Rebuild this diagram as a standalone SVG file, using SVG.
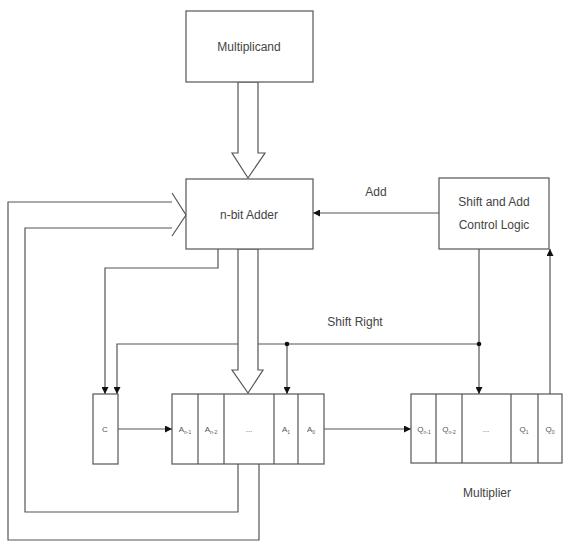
<svg xmlns="http://www.w3.org/2000/svg" width="563" height="542" viewBox="0 0 563 542">
<style>
.box{fill:#fff;stroke:#555;stroke-width:1.2}
.ln{fill:none;stroke:#555;stroke-width:1.2}
.hol{fill:#fff;stroke:#555;stroke-width:1.2;stroke-linejoin:miter}
.t{font-family:"Liberation Sans",Arial,sans-serif;font-size:12px;fill:#444;text-anchor:middle}
.s{font-family:"Liberation Sans",Arial,sans-serif;font-size:8px;fill:#555;text-anchor:middle}
.sub{font-size:5px}
</style>
<defs>
<marker id="ah" viewBox="0 0 10 10" refX="10" refY="5" markerWidth="7" markerHeight="7" markerUnits="userSpaceOnUse" orient="auto">
<path d="M0,0 L10,5 L0,10 z" fill="#111"/>
</marker>
</defs>
<g id="connectors">
<!-- Add -->
<line class="ln" x1="439" y1="213" x2="313" y2="213" marker-end="url(#ah)"/>
<!-- control down to Q -->
<line class="ln" x1="479" y1="249" x2="479" y2="394" marker-end="url(#ah)"/>
<!-- Q0 up to control -->
<line class="ln" x1="550" y1="394" x2="550" y2="249" marker-end="url(#ah)"/>
<!-- Shift Right bus -->
<polyline class="ln" points="479,344 117,344 117,394" marker-end="url(#ah)"/>
<line class="ln" x1="287" y1="344" x2="287" y2="394" marker-end="url(#ah)"/>
<circle cx="287" cy="344" r="2.3" fill="#111"/>
<circle cx="479" cy="344" r="2.3" fill="#111"/>
<!-- adder to C -->
<polyline class="ln" points="218,249 218,268 105,268 105,394" marker-end="url(#ah)"/>
<!-- C to A -->
<line class="ln" x1="118" y1="429" x2="172" y2="429" marker-end="url(#ah)"/>
<!-- A to Q -->
<line class="ln" x1="324" y1="429" x2="411" y2="429" marker-end="url(#ah)"/>
<!-- feedback loops -->
<polyline class="ln" points="259,464 259,540 8,540 8,202 172,202"/>
<polyline class="ln" points="238,464 238,512 25,512 25,228 172,228"/>
<polyline class="hol" points="172,193 186,215 172,236"/>
<!-- multiplicand to adder -->
<polygon class="hol" points="238,82 258,82 258,153 265,153 248,178 232,153 238,153"/>
<!-- adder to A -->
<polygon class="hol" points="238,249 258,249 258,370 263,370 248,393 232,370 238,370"/>
</g>
<g id="multiplicand">
<rect class="box" x="186" y="11" width="127" height="71"/>
<text class="t" x="249" y="51">Multiplicand</text>
</g>
<g id="adder">
<rect class="box" x="186" y="179" width="127" height="70"/>
<text class="t" x="249" y="219">n-bit Adder</text>
</g>
<g id="control">
<rect class="box" x="439" y="178" width="110" height="71"/>
<text class="t" x="494" y="206">Shift and Add</text>
<text class="t" x="494" y="229">Control Logic</text>
</g>
<g id="labels">
<text class="t" x="376" y="196">Add</text>
<text class="t" x="355" y="326">Shift Right</text>
<text class="t" x="487" y="497">Multiplier</text>
</g>
<g id="c-reg">
<rect class="box" x="93" y="394" width="25" height="70"/>
<text class="s" x="105" y="432">C</text>
</g>
<g id="a-reg">
<rect class="box" x="172" y="394" width="152" height="70"/>
<path class="ln" d="M198,394V464M224,394V464M274,394V464M298,394V464"/>
<text class="s" x="185" y="432">A<tspan class="sub" dy="2">n-1</tspan></text>
<text class="s" x="211" y="432">A<tspan class="sub" dy="2">n-2</tspan></text>
<text class="s" x="249" y="432">...</text>
<text class="s" x="286" y="432">A<tspan class="sub" dy="2">1</tspan></text>
<text class="s" x="311" y="432">A<tspan class="sub" dy="2">0</tspan></text>
</g>
<g id="q-reg">
<rect class="box" x="411" y="394" width="151" height="69"/>
<path class="ln" d="M436,394V463M462,394V463M511,394V463M538,394V463"/>
<text class="s" x="424" y="432">Q<tspan class="sub" dy="2">n-1</tspan></text>
<text class="s" x="449" y="432">Q<tspan class="sub" dy="2">n-2</tspan></text>
<text class="s" x="486" y="432">...</text>
<text class="s" x="524" y="432">Q<tspan class="sub" dy="2">1</tspan></text>
<text class="s" x="550" y="432">Q<tspan class="sub" dy="2">0</tspan></text>
</g>
</svg>
